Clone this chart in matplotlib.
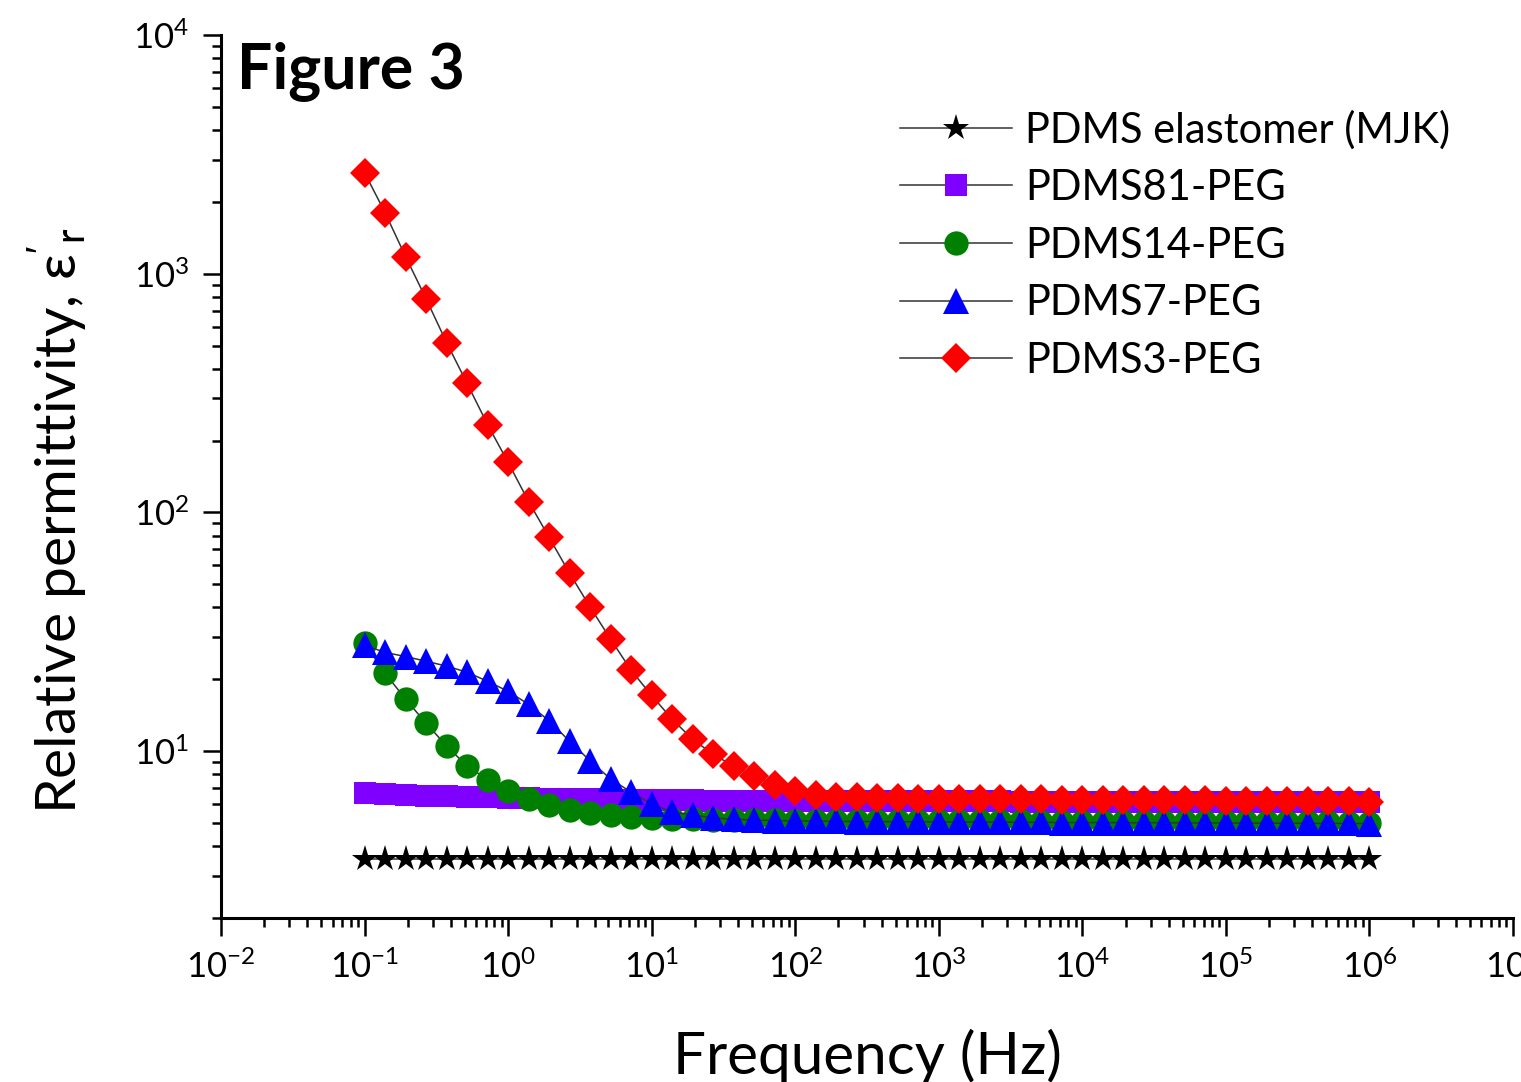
"""
Relative permittivity vs frequency for PDMS-PEG blends (Figure 3 recreation).
Run: python3 plot.py  -> out.png
"""
import matplotlib
matplotlib.use("Agg")
import matplotlib.pyplot as plt
from matplotlib.ticker import LogLocator, NullFormatter

plt.rcParams["font.family"] = ["Lato", "DejaVu Sans"]
plt.rcParams["mathtext.fontset"] = "custom"
plt.rcParams["mathtext.rm"] = "Liberation Sans"
plt.rcParams["mathtext.it"] = "Liberation Sans:italic"
plt.rcParams["axes.unicode_minus"] = False

# frequency grid (Hz), 7 points per decade, 0.1 Hz .. 1 MHz
FREQ = [0.1, 0.139, 0.193, 0.268, 0.373, 0.518, 0.72,
        1.0, 1.39, 1.93, 2.68, 3.73, 5.18, 7.2,
        10, 13.9, 19.3, 26.8, 37.3, 51.8, 72,
        100, 139, 193, 268, 373, 518, 720,
        1e3, 1.39e3, 1.93e3, 2.68e3, 3.73e3, 5.18e3, 7.2e3,
        1e4, 1.39e4, 1.93e4, 2.68e4, 3.73e4, 5.18e4, 7.2e4,
        1e5, 1.39e5, 1.93e5, 2.68e5, 3.73e5, 5.18e5, 7.2e5,
        1e6]

EPS_MJK = [3.52, 3.52, 3.52, 3.52, 3.52, 3.52, 3.52,
           3.52, 3.52, 3.52, 3.52, 3.52, 3.52, 3.52,
           3.52, 3.52, 3.52, 3.52, 3.52, 3.52, 3.52,
           3.52, 3.52, 3.52, 3.52, 3.52, 3.52, 3.52,
           3.52, 3.52, 3.52, 3.52, 3.52, 3.52, 3.52,
           3.52, 3.52, 3.52, 3.52, 3.52, 3.52, 3.52,
           3.52, 3.52, 3.52, 3.52, 3.52, 3.52, 3.52,
           3.52]
EPS_81 = [6.7, 6.62, 6.56, 6.5, 6.46, 6.43, 6.4,
          6.37, 6.34, 6.32, 6.3, 6.28, 6.26, 6.25,
          6.24, 6.23, 6.22, 6.21, 6.2, 6.2, 6.2,
          6.19, 6.19, 6.18, 6.18, 6.18, 6.17, 6.17,
          6.17, 6.16, 6.16, 6.16, 6.15, 6.15, 6.15,
          6.14, 6.14, 6.14, 6.13, 6.13, 6.13, 6.12,
          6.12, 6.12, 6.11, 6.11, 6.1, 6.1, 6.1,
          6.1]
EPS_14 = [28.3, 21.2, 16.5, 13.1, 10.5, 8.65, 7.6,
          6.8, 6.3, 5.94, 5.66, 5.5, 5.4, 5.3,
          5.25, 5.2, 5.18, 5.16, 5.15, 5.14, 5.13,
          5.12, 5.12, 5.11, 5.11, 5.1, 5.1, 5.1,
          5.09, 5.09, 5.08, 5.08, 5.08, 5.07, 5.07,
          5.07, 5.06, 5.06, 5.06, 5.05, 5.05, 5.05,
          5.04, 5.04, 5.04, 5.03, 5.03, 5.03, 5.02,
          5.02]
EPS_7 = [27.8, 25.9, 24.9, 23.8, 22.7, 21.4, 19.6,
         17.8, 15.7, 13.4, 11.0, 9.1, 7.64, 6.73,
         6.0, 5.56, 5.4, 5.25, 5.18, 5.14, 5.12,
         5.1, 5.09, 5.08, 5.07, 5.07, 5.06, 5.06,
         5.05, 5.05, 5.04, 5.04, 5.03, 5.03, 5.02,
         5.02, 5.02, 5.01, 5.01, 5.01, 5.0, 5.0,
         5.0, 4.99, 4.99, 4.99, 4.98, 4.98, 4.98,
         4.97]
EPS_3 = [2650, 1800, 1180, 786, 514, 347, 233,
         162, 111, 78.6, 55.6, 40.1, 29.4, 21.8,
         17.1, 13.6, 11.2, 9.7, 8.65, 7.86, 7.2,
         6.8, 6.55, 6.45, 6.4, 6.36, 6.34, 6.32,
         6.31, 6.3, 6.3, 6.29, 6.28, 6.28, 6.27,
         6.26, 6.26, 6.25, 6.24, 6.23, 6.23, 6.22,
         6.21, 6.2, 6.2, 6.19, 6.18, 6.17, 6.16,
         6.15]

SERIES = [
    ("PDMS elastomer (MJK)", EPS_MJK, "*", "black", 20),
    ("PDMS81-PEG", EPS_81, "s", "#8000ff", 16),
    ("PDMS14-PEG", EPS_14, "o", "#008000", 17.5),
    ("PDMS7-PEG", EPS_7, "^", "#0000ff", 19),
    ("PDMS3-PEG", EPS_3, "D", "#ff0000", 15.5),
]

fig = plt.figure(figsize=(15.21, 10.82), dpi=100)
ax = fig.add_axes([0.1453, 0.1516, 0.8494, 0.8161])

for name, eps, mk, col, ms in SERIES:
    ax.plot(FREQ, eps, color="#333333", lw=1.1, marker=mk, ms=ms,
            mfc=col, mec=col, mew=0, label=name)

ax.set_xscale("log")
ax.set_yscale("log")
ax.set_xlim(1e-2, 1e7)
ax.set_ylim(2, 1e4)

ax.xaxis.set_major_locator(LogLocator(base=10, numticks=20))
ax.xaxis.set_minor_locator(LogLocator(base=10, subs=range(2, 10), numticks=200))
ax.yaxis.set_minor_locator(LogLocator(base=10, subs=range(2, 10), numticks=200))
ax.xaxis.set_minor_formatter(NullFormatter())
ax.yaxis.set_minor_formatter(NullFormatter())

for s in ("top", "right"):
    ax.spines[s].set_visible(False)
for s in ("left", "bottom"):
    ax.spines[s].set_linewidth(2.2)

ax.tick_params(which="major", direction="out", length=13, width=1.8,
               labelsize=25, pad=10)
ax.tick_params(which="minor", direction="out", length=6.5, width=1.8)

ax.set_xlabel("Frequency (Hz)", fontsize=42)
ax.xaxis.set_label_coords(0.5, -0.125)
ax.set_ylabel(r"Relative permittivity, $\mathregular{\varepsilon}'_\mathregular{r}$",
              fontsize=41)
ax.yaxis.set_label_coords(-0.103, 0.45)

ax.text(0.012, 0.993, "Figure 3", transform=ax.transAxes, fontsize=45,
        fontweight="bold", va="top", ha="left")

ax.legend(loc="upper left", bbox_to_anchor=(0.5255, 0.915), frameon=False,
          fontsize=30, handlelength=2.69, handletextpad=0.31, labelspacing=0.47,
          borderaxespad=0, borderpad=0)

fig.savefig("out.png", dpi=100)
